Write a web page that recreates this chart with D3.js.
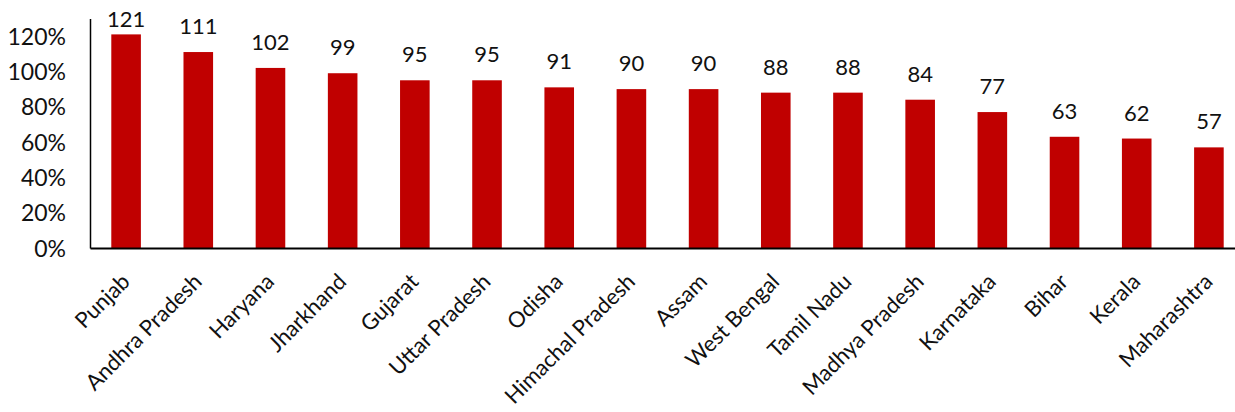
<!DOCTYPE html>
<html><head><meta charset="utf-8">
<script src="https://cdn.jsdelivr.net/npm/d3@7"></script>
<style>body{margin:0;background:#fff}svg{display:block}text{font-family:Lato,"Open Sans",sans-serif;fill:#111}</style>
</head><body><svg id="c" width="1235" height="412"></svg>
<script>
const states = ["Punjab","Andhra Pradesh","Haryana","Jharkhand","Gujarat","Uttar Pradesh","Odisha","Himachal Pradesh","Assam","West Bengal","Tamil Nadu","Madhya Pradesh","Karnataka","Bihar","Kerala","Maharashtra"];
const values = [121,111,102,99,95,95,91,90,90,88,88,84,77,63,62,57];
const yTicks = [0,20,40,60,80,100,120];

const svg = d3.select("#c");
const x = d3.scaleBand().domain(states).range([90,1245]).paddingInner(0.59).paddingOuter(0.295);
const y = d3.scaleLinear().domain([0,130]).range([248,18.5]);

svg.selectAll("rect.bar").data(values).join("rect").attr("class","bar")
  .attr("x",(d,i)=>x(states[i])).attr("width",x.bandwidth())
  .attr("y",d=>y(d)).attr("height",d=>y(0)-y(d)).attr("fill","#C00000");

svg.selectAll("text.val").data(values).join("text").attr("class","val")
  .attr("x",(d,i)=>x(states[i])+x.bandwidth()/2).attr("y",d=>Math.max(y(d)-18,27))
  .attr("text-anchor","middle").attr("font-size",22).text(d=>d);

const yAxis = d3.axisLeft(y).tickValues(yTicks).tickSize(0).tickPadding(24).tickFormat(d=>d+"%");
const gy = svg.append("g").attr("transform","translate(90,0)").call(yAxis);
gy.select(".domain").attr("stroke","#000").attr("stroke-width",1.5);
gy.selectAll("text").attr("font-size",23).attr("dy","0.35em");

const xAxis = d3.axisBottom(x).tickSize(0).tickPadding(0);
const gx = svg.append("g").attr("transform","translate(0,248)").call(xAxis);
gx.select(".domain").attr("stroke","#000").attr("stroke-width",2);
gx.selectAll("text").attr("font-size",22).attr("text-anchor","end")
  .attr("dy",0).attr("y",0)
  .attr("transform",d=>`translate(5,35) rotate(-45)`);
</script></body></html>
